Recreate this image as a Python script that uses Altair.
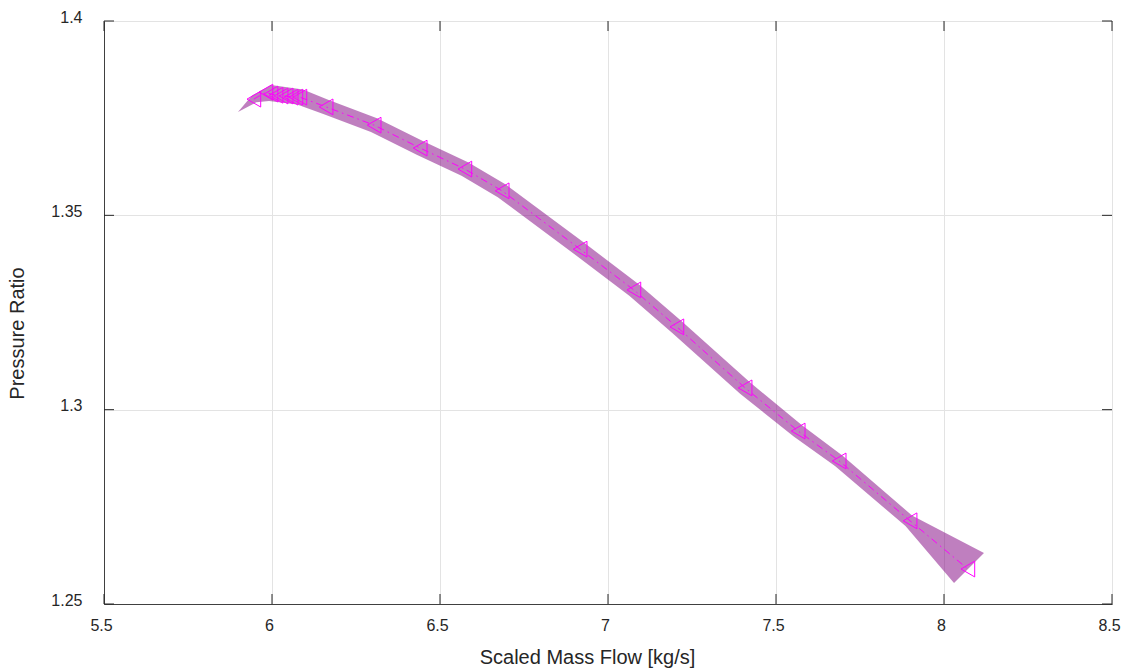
import altair as alt
import pandas as pd

# ---------------- data ----------------
x_ticks = [5.5, 6.0, 6.5, 7.0, 7.5, 8.0, 8.5]
y_ticks = [1.25, 1.30, 1.35, 1.40]

flow = [5.946, 5.982, 5.997, 6.012, 6.027, 6.042, 6.057, 6.071, 6.083,
        6.161, 6.304, 6.441, 6.574, 6.685, 6.917, 7.077, 7.205, 7.408,
        7.566, 7.688, 7.899, 8.071]
ratio = [1.3799, 1.3817, 1.3812, 1.3809, 1.3807, 1.3807, 1.3804, 1.3804, 1.3804,
         1.3779, 1.3732, 1.3673, 1.3619, 1.3563, 1.3413, 1.3308, 1.3213, 1.3056,
         1.2945, 1.2868, 1.2714, 1.2590]

# uncertainty band outline: upper edge (left -> right), lower edge (right -> left)
band_upper_x = [5.8988, 5.9396, 5.9970, 6.0920, 6.1688, 6.3125, 6.4503, 6.5848,
                6.6970, 6.9301, 7.0914, 7.2202, 7.4223, 7.5783, 7.6994, 7.9048, 8.1190]
band_upper_y = [1.37658, 1.38077, 1.38352, 1.38236, 1.37966, 1.37501, 1.36906, 1.36361,
                1.35785, 1.34287, 1.33227, 1.32270, 1.30704, 1.29592, 1.28810, 1.27277, 1.26312]
band_lower_x = [8.0298, 7.8854, 7.6756, 7.5527, 7.3932, 7.1905, 7.0634, 6.9033,
                6.6720, 6.5640, 6.4307, 6.2946, 6.1527, 6.0747, 5.9911, 5.9533]
band_lower_y = [1.25540, 1.27007, 1.28548, 1.29309, 1.30410, 1.31982, 1.32929, 1.33979,
                1.35466, 1.36021, 1.36556, 1.37146, 1.37606, 1.37851, 1.37941, 1.37907]

# ---------------- tables ----------------
pts = pd.DataFrame({"flow": flow, "ratio": ratio, "i": list(range(len(flow)))})
bx = band_upper_x + band_lower_x
by = band_upper_y + band_lower_y
band = pd.DataFrame({"flow": bx, "ratio": by, "i": list(range(len(bx)))})
xt = pd.DataFrame({"flow": x_ticks})
yt = pd.DataFrame({"ratio": y_ticks})

W, H = 1008, 583
FONT = "Liberation Sans"
TXT = "#262626"
AX = "#404040"

xs = alt.Scale(domain=[5.5, 8.5], nice=False, zero=False)
ys = alt.Scale(domain=[1.25, 1.4], nice=False, zero=False)

xaxis = alt.Axis(values=x_ticks, format="~g", title="Scaled Mass Flow [kg/s]",
                 grid=True, gridColor="#e3e3e3", gridWidth=1,
                 ticks=False, tickSize=0, domainColor=AX, domainWidth=1,
                 labelFont=FONT, labelFontSize=16, labelColor=TXT,
                 labelPadding=13, labelOffset=-3, labelFlush=False, labelOverlap=False,
                 titleFont=FONT, titleFontSize=20, titleFontWeight="normal",
                 titleColor=TXT, titleX=483, titleY=53, titleAlign="center",
                 titleBaseline="middle")
yaxis = alt.Axis(values=y_ticks, format="~g", title="Pressure Ratio",
                 grid=True, gridColor="#e3e3e3", gridWidth=1,
                 ticks=False, tickSize=0, domainColor=AX, domainWidth=1,
                 labelFont=FONT, labelFontSize=16, labelColor=TXT,
                 labelPadding=22, labelOffset=-4, labelFlush=False, labelOverlap=False,
                 titleFont=FONT, titleFontSize=20, titleFontWeight="normal",
                 titleColor=TXT, titleX=-87, titleY=312, titleAngle=270,
                 titleAlign="center", titleBaseline="middle")

X = alt.X("flow:Q", scale=xs, axis=xaxis)
Y = alt.Y("ratio:Q", scale=ys, axis=yaxis)

band_layer = alt.Chart(band).mark_line(
    fill="#800080", fillOpacity=0.5, stroke="#800080", strokeOpacity=0, strokeWidth=0
).encode(x=X, y=Y, order="i:Q")

line_layer = alt.Chart(pts).mark_line(
    color="#ff00ff", strokeWidth=1, strokeDash=[7, 4, 1.5, 4]
).encode(x=X, y=Y, order="i:Q")

mark_layer = alt.Chart(pts).mark_point(
    shape="triangle-left", filled=False, color="#ff00ff", size=250, strokeWidth=1, opacity=1
).encode(x=X, y=Y)

tick_len = 10
tb = alt.Chart(xt).mark_rule(color=TXT, strokeWidth=1).encode(
    x=X, y=alt.value(H), y2=alt.value(H - tick_len))
tt = alt.Chart(xt).mark_rule(color=TXT, strokeWidth=1).encode(
    x=X, y=alt.value(0), y2=alt.value(tick_len))
tl = alt.Chart(yt).mark_rule(color=TXT, strokeWidth=1).encode(
    y=Y, x=alt.value(0), x2=alt.value(tick_len))
tr = alt.Chart(yt).mark_rule(color=TXT, strokeWidth=1).encode(
    y=Y, x=alt.value(W - tick_len), x2=alt.value(W))

chart = alt.layer(band_layer, line_layer, mark_layer, tb, tt, tl, tr).properties(
    width=W, height=H,
    padding={"left": 104, "top": 21, "right": 13, "bottom": 65},
    autosize=alt.AutoSizeParams(type="none"),
    background="white",
).configure_view(stroke=AX, strokeWidth=1)

chart.save("out.html", embed_options={"renderer": "svg", "actions": False})
